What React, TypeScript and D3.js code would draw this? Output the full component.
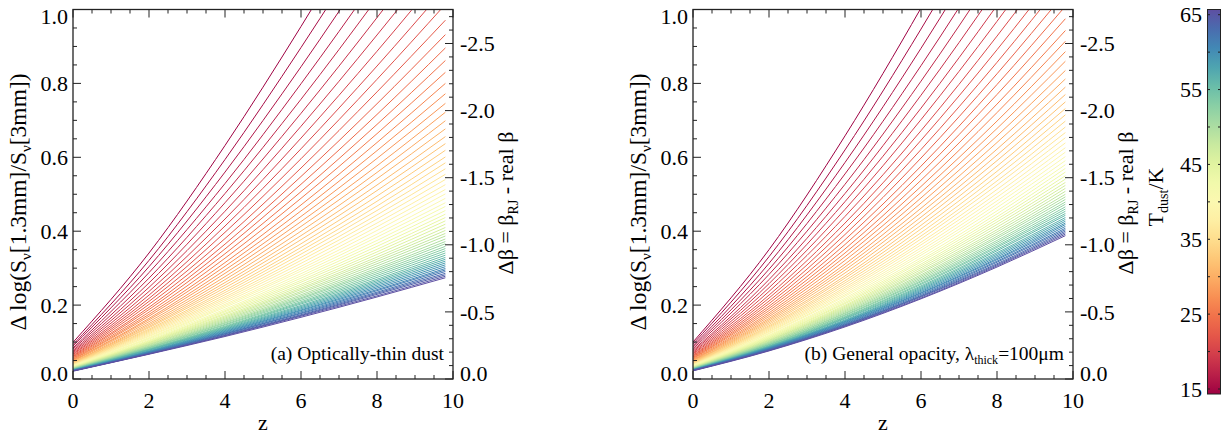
import React from "react";
import * as d3 from "d3";

// Redshift samples of every curve
const zValues = [0, 2, 4, 6, 8, 9.8];

// Dust temperatures (K) of the 65 curves
const temperatures = [
  15.00, 15.78, 16.56, 17.34, 18.13, 18.91, 19.69, 20.47, 21.25, 22.03, 22.81, 23.59, 24.38,
  25.16, 25.94, 26.72, 27.50, 28.28, 29.06, 29.84, 30.63, 31.41, 32.19, 32.97, 33.75, 34.53,
  35.31, 36.09, 36.88, 37.66, 38.44, 39.22, 40.00, 40.78, 41.56, 42.34, 43.13, 43.91, 44.69,
  45.47, 46.25, 47.03, 47.81, 48.59, 49.38, 50.16, 50.94, 51.72, 52.50, 53.28, 54.06, 54.84,
  55.63, 56.41, 57.19, 57.97, 58.75, 59.53, 60.31, 61.09, 61.88, 62.66, 63.44, 64.22, 65.00,
];

// (a) optically-thin dust: Δlog(Sν[1.3mm]/Sν[3mm]) at zValues, one row per temperature
const thinDust = [
  [0.099, 0.341, 0.632, 0.954, 1.296, 1.612],
  [0.093, 0.321, 0.594, 0.897, 1.218, 1.517],
  [0.089, 0.304, 0.560, 0.845, 1.149, 1.432],
  [0.084, 0.288, 0.529, 0.799, 1.086, 1.355],
  [0.081, 0.273, 0.502, 0.757, 1.030, 1.285],
  [0.077, 0.260, 0.477, 0.719, 0.978, 1.221],
  [0.074, 0.248, 0.454, 0.684, 0.931, 1.162],
  [0.071, 0.237, 0.433, 0.652, 0.887, 1.109],
  [0.068, 0.227, 0.414, 0.623, 0.847, 1.059],
  [0.066, 0.218, 0.397, 0.596, 0.811, 1.014],
  [0.063, 0.210, 0.380, 0.571, 0.777, 0.971],
  [0.061, 0.202, 0.365, 0.548, 0.745, 0.932],
  [0.059, 0.194, 0.352, 0.527, 0.716, 0.896],
  [0.057, 0.188, 0.339, 0.507, 0.689, 0.862],
  [0.055, 0.181, 0.327, 0.489, 0.664, 0.830],
  [0.053, 0.175, 0.315, 0.471, 0.640, 0.800],
  [0.052, 0.170, 0.305, 0.455, 0.618, 0.772],
  [0.050, 0.164, 0.295, 0.440, 0.597, 0.746],
  [0.049, 0.160, 0.286, 0.426, 0.577, 0.722],
  [0.048, 0.155, 0.277, 0.413, 0.559, 0.699],
  [0.046, 0.150, 0.269, 0.400, 0.542, 0.677],
  [0.045, 0.146, 0.261, 0.388, 0.525, 0.656],
  [0.044, 0.142, 0.254, 0.377, 0.510, 0.637],
  [0.043, 0.139, 0.247, 0.366, 0.495, 0.619],
  [0.042, 0.135, 0.240, 0.356, 0.481, 0.601],
  [0.041, 0.132, 0.234, 0.347, 0.468, 0.585],
  [0.040, 0.129, 0.228, 0.338, 0.456, 0.569],
  [0.039, 0.126, 0.222, 0.329, 0.444, 0.554],
  [0.038, 0.123, 0.217, 0.321, 0.433, 0.540],
  [0.037, 0.120, 0.212, 0.313, 0.422, 0.526],
  [0.037, 0.117, 0.207, 0.305, 0.412, 0.513],
  [0.036, 0.115, 0.202, 0.298, 0.402, 0.501],
  [0.035, 0.112, 0.198, 0.292, 0.392, 0.489],
  [0.034, 0.110, 0.194, 0.285, 0.384, 0.477],
  [0.034, 0.108, 0.189, 0.279, 0.375, 0.467],
  [0.033, 0.105, 0.185, 0.273, 0.367, 0.456],
  [0.033, 0.103, 0.182, 0.267, 0.359, 0.446],
  [0.032, 0.101, 0.178, 0.262, 0.351, 0.437],
  [0.031, 0.099, 0.175, 0.256, 0.344, 0.428],
  [0.031, 0.098, 0.171, 0.251, 0.337, 0.419],
  [0.030, 0.096, 0.168, 0.246, 0.330, 0.410],
  [0.030, 0.094, 0.165, 0.242, 0.324, 0.402],
  [0.029, 0.093, 0.162, 0.237, 0.318, 0.394],
  [0.029, 0.091, 0.159, 0.233, 0.312, 0.387],
  [0.028, 0.089, 0.156, 0.228, 0.306, 0.379],
  [0.028, 0.088, 0.153, 0.224, 0.300, 0.372],
  [0.027, 0.086, 0.151, 0.220, 0.295, 0.366],
  [0.027, 0.085, 0.148, 0.217, 0.290, 0.359],
  [0.027, 0.084, 0.146, 0.213, 0.285, 0.353],
  [0.026, 0.082, 0.143, 0.209, 0.280, 0.347],
  [0.026, 0.081, 0.141, 0.206, 0.275, 0.341],
  [0.025, 0.080, 0.139, 0.203, 0.270, 0.335],
  [0.025, 0.079, 0.137, 0.199, 0.266, 0.329],
  [0.025, 0.078, 0.135, 0.196, 0.262, 0.324],
  [0.024, 0.076, 0.133, 0.193, 0.258, 0.319],
  [0.024, 0.075, 0.131, 0.190, 0.254, 0.314],
  [0.024, 0.074, 0.129, 0.187, 0.250, 0.309],
  [0.023, 0.073, 0.127, 0.185, 0.246, 0.304],
  [0.023, 0.072, 0.125, 0.182, 0.242, 0.299],
  [0.023, 0.071, 0.123, 0.179, 0.239, 0.295],
  [0.022, 0.070, 0.122, 0.177, 0.235, 0.291],
  [0.022, 0.069, 0.120, 0.174, 0.232, 0.286],
  [0.022, 0.068, 0.118, 0.172, 0.229, 0.282],
  [0.022, 0.068, 0.117, 0.170, 0.225, 0.278],
  [0.021, 0.067, 0.115, 0.167, 0.222, 0.274],
];

// (b) general opacity, λthick = 100 µm
const generalOpacity = [
  [0.100, 0.350, 0.658, 1.004, 1.376, 1.725],
  [0.095, 0.331, 0.620, 0.947, 1.299, 1.631],
  [0.090, 0.313, 0.586, 0.895, 1.230, 1.545],
  [0.086, 0.297, 0.555, 0.848, 1.167, 1.468],
  [0.082, 0.283, 0.527, 0.806, 1.110, 1.398],
  [0.078, 0.269, 0.502, 0.768, 1.058, 1.334],
  [0.075, 0.258, 0.480, 0.733, 1.011, 1.276],
  [0.072, 0.247, 0.459, 0.702, 0.968, 1.222],
  [0.069, 0.237, 0.440, 0.672, 0.928, 1.173],
  [0.067, 0.227, 0.422, 0.646, 0.891, 1.127],
  [0.064, 0.219, 0.406, 0.621, 0.857, 1.085],
  [0.062, 0.211, 0.391, 0.598, 0.826, 1.046],
  [0.060, 0.204, 0.377, 0.576, 0.797, 1.009],
  [0.058, 0.197, 0.364, 0.557, 0.770, 0.975],
  [0.056, 0.191, 0.352, 0.538, 0.744, 0.943],
  [0.055, 0.185, 0.341, 0.521, 0.721, 0.914],
  [0.053, 0.179, 0.331, 0.505, 0.698, 0.886],
  [0.051, 0.174, 0.321, 0.490, 0.678, 0.860],
  [0.050, 0.169, 0.311, 0.476, 0.658, 0.835],
  [0.049, 0.164, 0.303, 0.462, 0.640, 0.812],
  [0.047, 0.160, 0.295, 0.450, 0.622, 0.790],
  [0.046, 0.156, 0.287, 0.438, 0.606, 0.770],
  [0.045, 0.152, 0.279, 0.427, 0.591, 0.750],
  [0.044, 0.148, 0.273, 0.416, 0.576, 0.732],
  [0.043, 0.144, 0.266, 0.406, 0.562, 0.715],
  [0.042, 0.141, 0.260, 0.396, 0.549, 0.698],
  [0.041, 0.138, 0.254, 0.387, 0.536, 0.682],
  [0.040, 0.135, 0.248, 0.379, 0.525, 0.667],
  [0.039, 0.132, 0.243, 0.370, 0.513, 0.653],
  [0.038, 0.129, 0.238, 0.363, 0.502, 0.639],
  [0.038, 0.127, 0.233, 0.355, 0.492, 0.626],
  [0.037, 0.124, 0.228, 0.348, 0.482, 0.614],
  [0.036, 0.122, 0.224, 0.341, 0.473, 0.602],
  [0.036, 0.119, 0.219, 0.335, 0.464, 0.591],
  [0.035, 0.117, 0.215, 0.328, 0.455, 0.580],
  [0.034, 0.115, 0.211, 0.322, 0.447, 0.570],
  [0.034, 0.113, 0.207, 0.317, 0.439, 0.560],
  [0.033, 0.111, 0.204, 0.311, 0.432, 0.550],
  [0.032, 0.109, 0.200, 0.306, 0.425, 0.541],
  [0.032, 0.107, 0.197, 0.301, 0.418, 0.532],
  [0.031, 0.105, 0.194, 0.296, 0.411, 0.524],
  [0.031, 0.104, 0.191, 0.291, 0.404, 0.516],
  [0.030, 0.102, 0.188, 0.287, 0.398, 0.508],
  [0.030, 0.100, 0.185, 0.282, 0.392, 0.500],
  [0.029, 0.099, 0.182, 0.278, 0.386, 0.493],
  [0.029, 0.097, 0.179, 0.274, 0.381, 0.486],
  [0.028, 0.096, 0.177, 0.270, 0.375, 0.479],
  [0.028, 0.094, 0.174, 0.266, 0.370, 0.473],
  [0.028, 0.093, 0.172, 0.263, 0.365, 0.466],
  [0.027, 0.092, 0.169, 0.259, 0.360, 0.460],
  [0.027, 0.090, 0.167, 0.256, 0.356, 0.454],
  [0.026, 0.089, 0.165, 0.252, 0.351, 0.448],
  [0.026, 0.088, 0.163, 0.249, 0.347, 0.443],
  [0.026, 0.087, 0.160, 0.246, 0.342, 0.437],
  [0.025, 0.086, 0.158, 0.243, 0.338, 0.432],
  [0.025, 0.085, 0.156, 0.240, 0.334, 0.427],
  [0.025, 0.084, 0.155, 0.237, 0.330, 0.422],
  [0.024, 0.083, 0.153, 0.234, 0.326, 0.418],
  [0.024, 0.082, 0.151, 0.232, 0.323, 0.413],
  [0.024, 0.081, 0.149, 0.229, 0.319, 0.408],
  [0.024, 0.080, 0.147, 0.226, 0.316, 0.404],
  [0.023, 0.079, 0.146, 0.224, 0.312, 0.400],
  [0.023, 0.078, 0.144, 0.222, 0.309, 0.396],
  [0.023, 0.077, 0.143, 0.219, 0.306, 0.392],
  [0.022, 0.076, 0.141, 0.217, 0.303, 0.388],
];

// Axis ticks
const zTicks = [0, 2, 4, 6, 8, 10];
const zMinorTicks = [0, 0.5, 1, 1.5, 2, 2.5, 3, 3.5, 4, 4.5, 5, 5.5, 6, 6.5, 7, 7.5, 8, 8.5, 9, 9.5, 10];
const yTicks = [0, 0.2, 0.4, 0.6, 0.8, 1.0];
const dBetaTicks = [0, -0.5, -1.0, -1.5, -2.0, -2.5];
const tempTicks = [15, 25, 35, 45, 55, 65];
const LOG_FREQ_RATIO = 0.3632; // log10(230.6 GHz / 99.9 GHz)

const W = 1222, H = 434;
const FONT = "'Liberation Serif', 'Times New Roman', serif";
const yTop = 9.5, yBot = 379;
const AX = "#222";

function Panel({ x0, id, series, label }: any) {
  const x = d3.scaleLinear().domain([0, 10]).range([x0, x0 + 380]);
  const y = d3.scaleLinear().domain([0, 1]).range([yBot, yTop]);
  const yb = d3.scaleLinear().domain([0, -1 / LOG_FREQ_RATIO]).range([yBot, yTop]);
  const color = d3.scaleSequential(d3.interpolateSpectral).domain([15, 65]);
  const line = d3.line<number>().x((_, i) => x(zValues[i])).y(d => y(d)).curve(d3.curveMonotoneX);
  const yMinor = d3.range(0, 1.0001, 0.05);
  const bMinor = d3.range(0, -2.7001, -0.1);
  const clampY = (p: number) => Math.min(Math.max(p, yTop + 6.5), yBot - 5.5);
  return (
    <g>
      <defs>
        <clipPath id={"clip" + id}><rect x={x0} y={yTop} width={380} height={yBot - yTop} /></clipPath>
      </defs>
      <g clipPath={`url(#clip${id})`}>
        {series.map((vals: number[], i: number) => (
          <path key={i} d={line(vals)!} fill="none" stroke={color(temperatures[i])} strokeWidth={1} />
        ))}
      </g>
      <rect x={x0} y={yTop} width={380} height={yBot - yTop} fill="none" stroke={AX} strokeWidth={1.3} />
      {zMinorTicks.map((v, i) => {
        const l = zTicks.includes(v) ? 8 : 4;
        return <g key={"x" + i}>
          <line x1={x(v)} x2={x(v)} y1={yBot} y2={yBot - l} stroke={AX} />
          <line x1={x(v)} x2={x(v)} y1={yTop} y2={yTop + l} stroke={AX} />
        </g>;
      })}
      {zTicks.map((v, i) => <text key={"xl" + i} x={x(v)} y={408} textAnchor="middle" fontSize={22} fontFamily={FONT}>{v}</text>)}
      <text x={x0 + 190} y={430} textAnchor="middle" fontSize={22} fontFamily={FONT}>z</text>
      {yMinor.map((v, i) => {
        const maj = Math.abs(v / 0.2 - Math.round(v / 0.2)) < 1e-6;
        return <line key={"y" + i} x1={x0} x2={x0 + (maj ? 8 : 4)} y1={y(v)} y2={y(v)} stroke={AX} />;
      })}
      {yTicks.map((v, i) => <text key={"yl" + i} x={x0 - 5} y={clampY(y(v))} dy="0.35em" textAnchor="end" fontSize={22} fontFamily={FONT}>{v.toFixed(1)}</text>)}
      {bMinor.map((v, i) => {
        const maj = Math.abs(v / 0.5 - Math.round(v / 0.5)) < 1e-6;
        return <line key={"b" + i} x1={x0 + 380} x2={x0 + 380 - (maj ? 8 : 4)} y1={yb(v)} y2={yb(v)} stroke={AX} />;
      })}
      {dBetaTicks.map((v, i) => <text key={"bl" + i} x={x0 + 387} y={clampY(yb(v))} dy="0.35em" textAnchor="start" fontSize={22} fontFamily={FONT}>{v === 0 ? "0.0" : "-" + Math.abs(v).toFixed(1)}</text>)}
      <text transform={`translate(${x0 - 47},202) rotate(-90)`} textAnchor="middle" fontSize={23.5} fontFamily={FONT}>
        Δ log(S<tspan fontSize={15} dy={5}>ν</tspan><tspan dy={-5}>[1.3mm]/S</tspan><tspan fontSize={15} dy={5}>ν</tspan><tspan dy={-5}>[3mm])</tspan>
      </text>
      <text transform={`translate(${x0 + 440},203) rotate(-90)`} textAnchor="middle" fontSize={22} fontFamily={FONT}>
        Δβ = β<tspan fontSize={14} dy={5}>RJ</tspan><tspan dy={-5}> - real β</tspan>
      </text>
      {label}
    </g>
  );
}

export default function App() {
  const cb = d3.scaleLinear().domain([15, 65]).range([389, 14.7]);
  const stops = d3.range(0, 1.001, 0.05);
  return (
    <svg width={W} height={H} style={{ position: "absolute", left: 0, top: 0, background: "#fff" }}>
      <Panel x0={73} id="a" series={thinDust} label={
        <text x={444} y={360} textAnchor="end" fontSize={19.5} fontFamily={FONT}>(a) Optically-thin dust</text>
      } />
      <Panel x0={693} id="b" series={generalOpacity} label={
        <text x={1064} y={360} textAnchor="end" fontSize={19.5} fontFamily={FONT}>(b) General opacity, λ<tspan fontSize={12} dy={4}>thick</tspan><tspan dy={-4}>=100μm</tspan></text>
      } />
      <defs>
        <linearGradient id="cbg" x1="0" y1="1" x2="0" y2="0">
          {stops.map((s, i) => <stop key={i} offset={s} stopColor={d3.interpolateSpectral(s)} />)}
        </linearGradient>
      </defs>
      <rect x={1207.5} y={9.5} width={13} height={384.5} fill="url(#cbg)" stroke={AX} strokeWidth={1} />
      {d3.range(15, 65.01, 5).map((v, i) => <g key={i}>
        <line x1={1207.5} x2={1210} y1={cb(v)} y2={cb(v)} stroke={AX} />
        <line x1={1220.5} x2={1218} y1={cb(v)} y2={cb(v)} stroke={AX} />
      </g>)}
      {tempTicks.map((v, i) => <text key={i} x={1202} y={cb(v)} dy="0.35em" textAnchor="end" fontSize={22} fontFamily={FONT}>{v}</text>)}
      <text transform={`translate(1163,197) rotate(-90)`} textAnchor="middle" fontSize={22} fontFamily={FONT}>
        T<tspan fontSize={14} dy={5}>dust</tspan><tspan dy={-5}>/K</tspan>
      </text>
    </svg>
  );
}
